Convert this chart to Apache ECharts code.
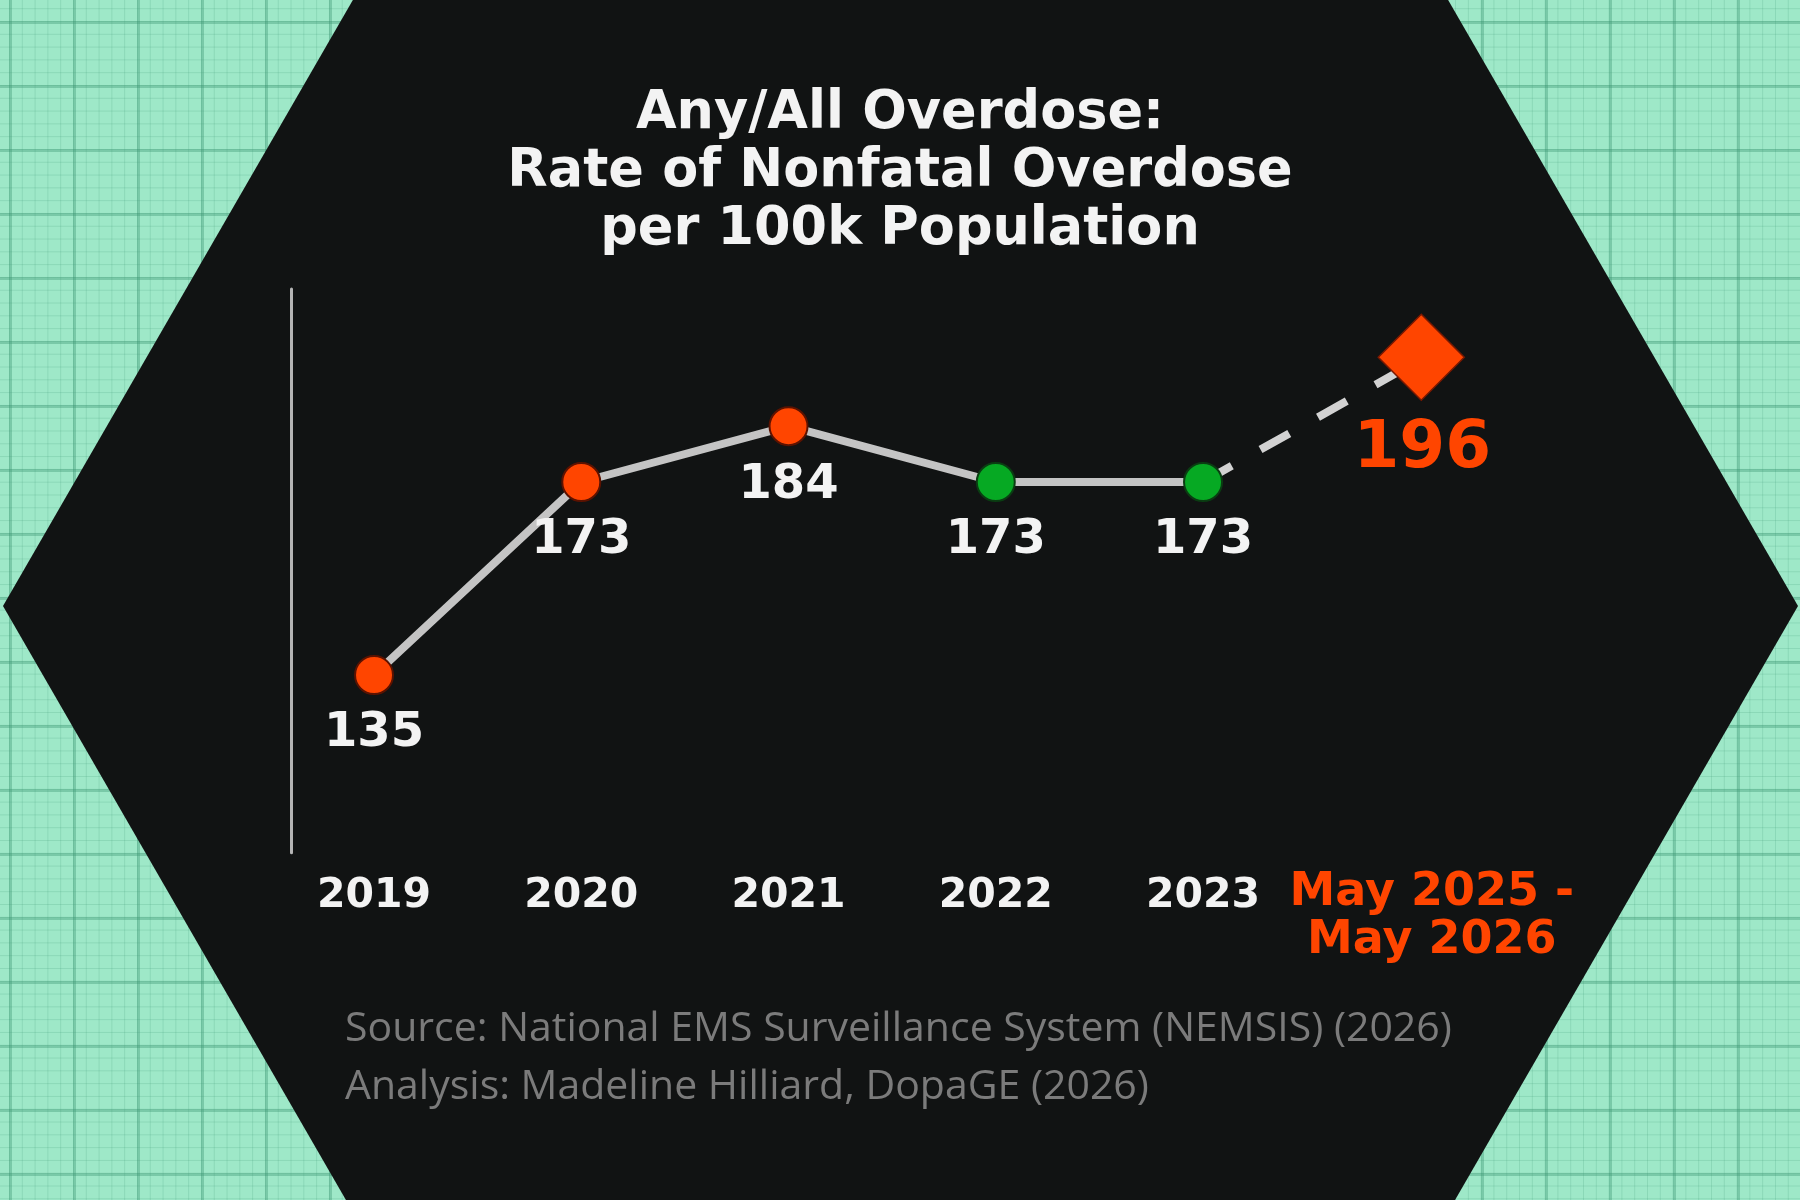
<!DOCTYPE html>
<html>
<head>
<meta charset="utf-8">
<script src="https://cdn.jsdelivr.net/npm/echarts@6/dist/echarts.min.js"></script>
<style>
html, body { margin: 0; padding: 0; }
body {
  width: 1800px; height: 1200px; overflow: hidden;
  background-color: #9ee8c8;
  background-image:
    linear-gradient(90deg, rgba(60,150,115,0.38) 3px, transparent 3px),
    linear-gradient(180deg, rgba(60,150,115,0.38) 3px, transparent 3px),
    linear-gradient(90deg, rgba(60,150,115,0.2) 1px, transparent 1px),
    linear-gradient(180deg, rgba(60,150,115,0.2) 1px, transparent 1px);
  background-size: 64px 64px, 64px 64px, 12.8px 12.8px, 12.8px 12.8px;
  background-position: 9px 21px, 9px 21px, 9px 21px, 9px 21px;
}
#chart { width: 1800px; height: 1200px; }
</style>
</head>
<body>
<div id="chart"></div>
<script>
// ---- data ----
const categories = ['2019', '2020', '2021', '2022', '2023', 'May 2025 -\nMay 2026'];
const observedRates = [135, 173, 184, 173, 173];
const projectedRate = 196;
const titleLines = ['Any/All Overdose:', 'Rate of Nonfatal Overdose', 'per 100k Population'];
const sourceLines = ['Source: National EMS Surveillance System (NEMSIS) (2026)', 'Analysis: Madeline Hilliard, DopaGE (2026)'];
const yRange = [100, 211];

// ---- styles ----
const ORANGE = '#ff4500';
const GREEN = '#06a923';
const pointFill = [ORANGE, ORANGE, ORANGE, GREEN, GREEN];
const pointBorder = ['#5c1200', '#5c1200', '#5c1200', '#0a3d12', '#0a3d12'];
const FONT = 'DejaVu Sans';

const chart = echarts.init(document.getElementById('chart'), null, { renderer: 'canvas' });

const lastIdx = categories.length - 1;

const solidData = categories.map((c, i) => {
  if (i >= observedRates.length) return '-';
  return {
    value: observedRates[i],
    itemStyle: { color: pointFill[i], borderColor: pointBorder[i], borderWidth: 2 }
  };
});

const dashData = categories.map((c, i) => {
  if (i === observedRates.length - 1) return { value: observedRates[i], symbol: 'none' };
  if (i === lastIdx) return {
    value: projectedRate,
    symbol: 'diamond',
    symbolSize: 86,
    symbolOffset: [11, -8],
    itemStyle: { color: ORANGE, borderColor: '#7a1800', borderWidth: 1.5 },
    label: {
      show: true, position: 'inside', offset: [1, 93],
      color: ORANGE, fontFamily: FONT, fontWeight: 'bold', fontSize: 66,
      formatter: '{c}'
    }
  };
  return '-';
});

const H = { cx: 900.5, cy: 606, r: 897.5 };
const hexPoints = [0, 1, 2, 3, 4, 5].map(k => {
  const a = Math.PI / 3 * k;
  return [H.cx + H.r * Math.cos(a), H.cy + H.r * Math.sin(a)];
});

const option = {
  backgroundColor: 'transparent',
  animation: false,
  graphic: [
    { type: 'polygon', z: -10, silent: true, shape: { points: hexPoints }, style: { fill: '#111313' } }
  ],
  title: [
    {
      text: titleLines.join('\n'),
      left: 'center', top: 80,
      textStyle: { color: '#f3f3f3', fontFamily: FONT, fontWeight: 'bold', fontSize: 52.5, lineHeight: 58 }
    },
    {
      text: sourceLines.join('\n'),
      left: 345, top: 1000, padding: 0,
      textStyle: { color: '#7b7b7b', fontFamily: 'Open Sans', fontWeight: 'normal', fontSize: 41, lineHeight: 58 }
    }
  ],
  grid: { left: 270.4, right: 286.1, top: 289, bottom: 347.2, containLabel: false },
  xAxis: {
    type: 'category',
    data: categories,
    boundaryGap: true,
    axisLine: { show: false },
    axisTick: { show: false },
    splitLine: { show: false },
    axisLabel: {
      interval: 0,
      margin: 16,
      color: '#f3f3f3',
      fontFamily: FONT, fontWeight: 'bold', fontSize: 41, lineHeight: 56,
      formatter: (v, i) => {
        if (i === lastIdx) return v.split('\n').map(s => '{p|' + s + '}').join('\n');
        return v;
      },
      rich: {
        p: { color: ORANGE, fontFamily: FONT, fontWeight: 'bold', fontSize: 46, lineHeight: 48, padding: [0, 0, 0, 43] }
      }
    }
  },
  yAxis: {
    type: 'value',
    min: yRange[0], max: yRange[1],
    offset: -21,
    axisLine: { show: true, lineStyle: { color: '#b4b4b4', width: 3 } },
    axisTick: { show: false },
    axisLabel: { show: false },
    splitLine: { show: false }
  },
  series: [
    {
      type: 'line',
      z: 2,
      data: dashData,
      symbol: 'none',
      lineStyle: { color: '#d2d2d2', width: 8, type: [33, 33], dashOffset: 0, cap: 'butt' },
      emphasis: { disabled: true },
      connectNulls: false
    },
    {
      type: 'line',
      z: 3,
      data: solidData,
      symbol: 'circle',
      symbolSize: 38,
      lineStyle: { color: '#c4c4c4', width: 8 },
      label: {
        show: true, position: 'inside', offset: [0, 59],
        color: '#f3f3f3', fontFamily: FONT, fontWeight: 'bold', fontSize: 48,
        formatter: '{c}'
      },
      emphasis: { disabled: true }
    }
  ]
};

chart.setOption(option);
</script>
</body>
</html>
